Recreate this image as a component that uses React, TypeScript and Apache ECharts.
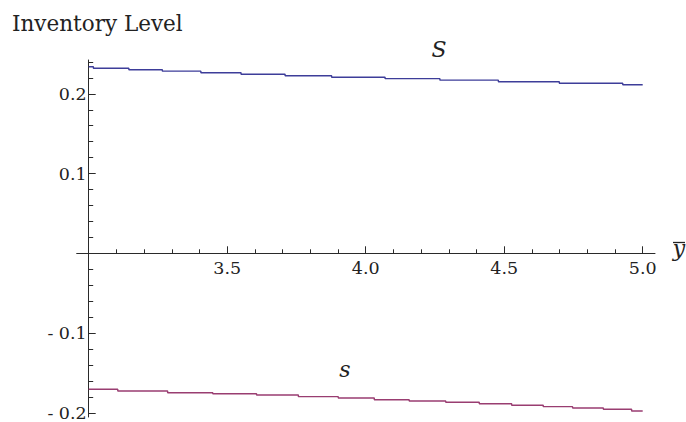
import React, { useEffect, useRef } from "react";
import * as echarts from "echarts";

// Data (x = ȳ, y = inventory level)
const X_ORIGIN = 3.0; // where the vertical axis crosses
const X_MIN = 2.9567;
const X_MAX = 5.0444;
const Y_MIN = -0.2053;
const Y_MAX = 0.2424;

const X_TICKS = [3.5, 4.0, 4.5, 5.0];
const Y_TICKS = [-0.2, -0.1, 0.1, 0.2];

// Upper policy level S (staircase): x where a new level starts, and the level
const S_X = [3.0, 3.017, 3.145, 3.266, 3.405, 3.55, 3.709, 3.877, 4.07, 4.268, 4.479, 4.699, 4.928, 5.0];
const S_Y = [0.234, 0.2321, 0.2302, 0.2284, 0.2265, 0.2246, 0.2227, 0.2208, 0.219, 0.2171, 0.2152, 0.2133, 0.2114, 0.2114];

// Lower policy level s (staircase)
const s_X = [3.0, 3.105, 3.285, 3.448, 3.606, 3.757, 3.901, 4.031, 4.157, 4.289, 4.41, 4.527, 4.641, 4.747, 4.858, 4.96, 5.0];
const s_Y = [-0.1705, -0.1727, -0.1748, -0.1761, -0.1777, -0.1798, -0.1814, -0.1836, -0.1852, -0.1868, -0.1886, -0.1906, -0.1923, -0.194, -0.1956, -0.1977, -0.1977];

const FONT = "DejaVu Serif";
const AXIS_COLOR = "#2a2a2a";

const GRID_LEFT = 76.7;
const GRID_TOP = 60;
const GRID_W = 578.3;
const GRID_H = 357;

export default function App() {
  const ref = useRef<HTMLDivElement>(null);

  useEffect(() => {
    if (!ref.current) return;
    const chart = echarts.init(ref.current, undefined, { renderer: "svg" });
    const shift = (v: number) => +(v - X_ORIGIN).toFixed(6);

    // pixel position of the crossing axes inside the grid (labels stay at the grid edge)
    const zeroY = GRID_TOP + (GRID_H * Y_MAX) / (Y_MAX - Y_MIN);
    const zeroX = GRID_LEFT + (GRID_W * (X_ORIGIN - X_MIN)) / (X_MAX - X_MIN);

    const option: any = {
      animation: false,
      backgroundColor: "#ffffff",
      grid: {
        left: GRID_LEFT,
        top: GRID_TOP,
        width: GRID_W,
        height: GRID_H,
        containLabel: false,
        outerBoundsMode: "none",
      },
      xAxis: {
        type: "value",
        min: shift(X_MIN),
        max: shift(X_MAX),
        splitNumber: 5,
        axisLine: { show: true, onZero: true, lineStyle: { color: AXIS_COLOR, width: 1 } },
        axisTick: {
          show: true,
          inside: true,
          length: 7,
          customValues: X_TICKS.map(shift),
          lineStyle: { color: AXIS_COLOR, width: 1 },
        },
        minorTick: { show: true, splitNumber: 5, length: 4, lineStyle: { color: AXIS_COLOR, width: 1 } },
        axisLabel: {
          customValues: X_TICKS.map(shift),
          formatter: (v: number) => (v + X_ORIGIN).toFixed(1),
          margin: zeroY + 6 - (GRID_TOP + GRID_H),
          fontFamily: FONT,
          fontSize: 17.5,
          color: "#222",
        },
        splitLine: { show: false },
        minorSplitLine: { show: false },
      },
      yAxis: {
        type: "value",
        min: Y_MIN,
        max: Y_MAX,
        splitNumber: 5,
        axisLine: { show: true, onZero: true, lineStyle: { color: AXIS_COLOR, width: 1 } },
        axisTick: {
          show: true,
          inside: true,
          length: 7,
          customValues: Y_TICKS,
          lineStyle: { color: AXIS_COLOR, width: 1 },
        },
        minorTick: { show: true, splitNumber: 5, length: 4.5, lineStyle: { color: AXIS_COLOR, width: 1 } },
        axisLabel: {
          customValues: Y_TICKS,
          formatter: (v: number) => (v < 0 ? "- " + Math.abs(v).toFixed(1) : v.toFixed(1)),
          margin: GRID_LEFT - zeroX + 2,
          fontFamily: FONT,
          fontSize: 17.5,
          color: "#222",
        },
        splitLine: { show: false },
        minorSplitLine: { show: false },
      },
      series: [
        {
          name: "S",
          type: "line",
          step: "end",
          symbol: "none",
          data: S_X.map((x, i) => [shift(x), S_Y[i]]),
          lineStyle: { color: "#3d3d99", width: 1.4 },
        },
        {
          name: "s",
          type: "line",
          step: "end",
          symbol: "none",
          data: s_X.map((x, i) => [shift(x), s_Y[i]]),
          lineStyle: { color: "#993d71", width: 1.4 },
        },
      ],
      graphic: [
        {
          type: "text",
          x: 12,
          y: 23.3,
          style: { text: "Inventory Level", fontFamily: FONT, fontSize: 21.5, fill: "#222", align: "left", verticalAlign: "middle" },
        },
        {
          type: "text",
          x: 439,
          y: 49.4,
          style: { text: "S", fontFamily: FONT, fontStyle: "italic", fontSize: 22, fill: "#222", align: "center", verticalAlign: "middle" },
        },
        {
          type: "text",
          x: 345,
          y: 369,
          style: { text: "s", fontFamily: FONT, fontStyle: "italic", fontSize: 22, fill: "#222", align: "center", verticalAlign: "middle" },
        },
        {
          type: "text",
          x: 679,
          y: 248.8,
          style: { text: "y", fontFamily: FONT, fontStyle: "italic", fontSize: 22, fill: "#222", align: "center", verticalAlign: "middle" },
        },
        {
          type: "line",
          shape: { x1: 673, y1: 242.5, x2: 685, y2: 242.5 },
          style: { stroke: "#222", lineWidth: 1.3 },
        },
      ],
    };

    chart.setOption(option);
    return () => chart.dispose();
  }, []);

  return (
    <div
      ref={ref}
      style={{ position: "fixed", left: 0, top: 0, width: 686, height: 422, background: "#fff" }}
    />
  );
}
